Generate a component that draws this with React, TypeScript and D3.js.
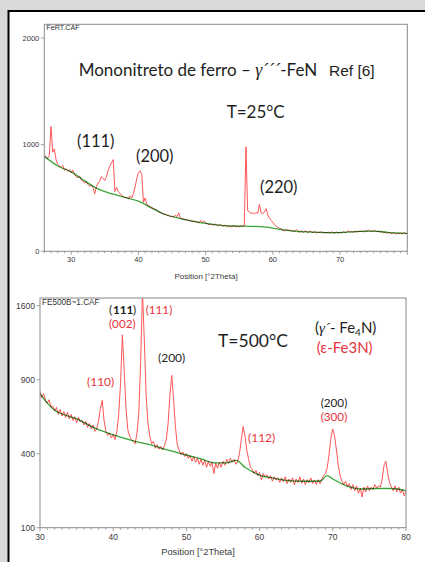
import React from 'react';
import * as d3 from 'd3';

// ---------- Top pattern (FeRT.CAF), 2θ from 26° step 0.25° ----------
const topStart = 26;
const topStep = 0.25;
const topIntensity = [
  905, 880, 870, 900, 1170, 930, 960, 860, // 26
  815, 800, 790, 805, 760, 775, 750, 765, // 28
  735, 760, 720, 700, 690, 705, 670, 660, // 30
  640, 655, 625, 610, 620, 600, 540, 605, // 32
  640, 660, 700, 680, 665, 700, 760, 800, // 34
  830, 860, 560, 600, 560, 545, 525, 515, // 36
  500, 505, 490, 520, 500, 540, 600, 680, // 38
  740, 755, 720, 460, 500, 440, 430, 420, // 40
  410, 400, 395, 385, 370, 365, 360, 345, // 42
  350, 335, 340, 325, 330, 320, 340, 325, // 44
  360, 310, 305, 300, 295, 300, 285, 290, // 46
  280, 285, 275, 280, 265, 290, 270, 285, // 48
  265, 260, 250, 255, 250, 245, 255, 240, // 50
  245, 250, 235, 240, 245, 230, 240, 228, // 52
  235, 240, 228, 235, 230, 238, 232, 240, // 54
  980, 380, 370, 355, 360, 350, 365, 355, // 56
  440, 360, 350, 370, 400, 340, 310, 290, // 58
  270, 250, 235, 225, 215, 210, 200, 190, // 60
  205, 195, 200, 190, 195, 185, 205, 190, // 62
  180, 195, 175, 190, 185, 175, 190, 180, // 64
  175, 185, 170, 180, 175, 185, 170, 178, // 66
  172, 180, 168, 182, 175, 170, 180, 172, // 68
  178, 170, 185, 175, 180, 195, 180, 185, // 70
  178, 190, 182, 188, 185, 192, 180, 195, // 72
  188, 200, 185, 192, 188, 195, 182, 190, // 74
  180, 186, 172, 180, 168, 178, 170, 165, // 76
  175, 160, 172, 165, 170, 162, 175, 165, // 78
  170,
];
const topBgTheta = [26, 28, 30, 32, 34, 36, 38, 40, 42, 44, 46, 48, 50, 52, 54, 55.8, 59, 61.5, 63, 65, 67, 69, 71, 73, 75, 77, 80];
const topBgCounts = [890, 800, 745, 660, 585, 540, 505, 470, 405, 345, 310, 283, 262, 246, 237, 236, 226, 200, 190, 182, 177, 175, 180, 186, 190, 178, 169];
const topXDomain = [26, 80];
const topYDomain = [0, 2000];
const topXTicks = [30, 40, 50, 60, 70];
const topYTicks = [0, 1000, 2000];

// ---------- Bottom pattern (FE500B~1.CAF), 2θ from 30° step 0.25° ----------
const botStart = 30;
const botStep = 0.25;
const botIntensity = [
  810, 760, 790, 740, 720, 745, 690, 700, // 30
  665, 690, 640, 675, 630, 660, 620, 655, // 32
  610, 640, 600, 625, 585, 620, 590, 600, // 34
  570, 595, 555, 580, 545, 570, 530, 545, // 36
  600, 680, 740, 600, 530, 505, 520, 490, // 38
  510, 480, 530, 640, 870, 1300, 980, 680, // 40
  540, 500, 480, 470, 455, 520, 650, 1050, // 42
  1750, 1250, 780, 580, 500, 455, 470, 430, // 44
  450, 425, 440, 420, 445, 480, 580, 780, // 46
  935, 750, 560, 450, 420, 395, 410, 385, // 48
  400, 375, 390, 360, 385, 355, 375, 345, // 50
  370, 340, 365, 330, 360, 335, 355, 300, // 52
  350, 325, 355, 330, 360, 340, 370, 350, // 54
  375, 355, 370, 345, 360, 400, 480, 560, // 56
  500, 420, 370, 330, 320, 300, 315, 290, // 58
  305, 270, 300, 285, 295, 275, 290, 265, // 60
  285, 270, 280, 260, 280, 262, 285, 255, // 62
  275, 260, 280, 250, 275, 260, 285, 255, // 64
  275, 250, 272, 258, 280, 255, 270, 250, // 66
  272, 255, 275, 290, 300, 330, 400, 490, // 68
  545, 500, 420, 340, 290, 265, 250, 265, // 70
  240, 255, 230, 250, 225, 245, 215, 235, // 72
  200, 240, 220, 245, 225, 240, 230, 250, // 74
  235, 245, 240, 275, 340, 360, 300, 260, // 76
  240, 225, 245, 220, 240, 215, 230, 205, // 78
  225,
];
const botBgTheta = [30, 31, 32, 33, 35, 37.5, 40, 43, 45, 47, 50, 52, 54, 55.5, 56.8, 58, 60, 62, 64, 66, 68.3, 69.2, 70, 72, 74, 76, 78, 80];
const botBgCounts = [790, 720, 670, 645, 610, 550, 508, 470, 450, 425, 393, 372, 352, 352, 365, 330, 293, 278, 268, 265, 266, 290, 275, 244, 232, 234, 234, 225];
const botXDomain = [30, 80];
const botYDomain = [100, 1600];
const botXTicks = [30, 40, 50, 60, 70, 80];
const botYTicks = [100, 400, 900, 1600];

const RED = '#ff4d4d';
const LABEL_RED = '#e8343c';
const INK = '#1e1e1e';
const AXIS = '#8a8a8a';
const TICKTXT = '#3a3a3a';
const CAL = 'Lato, "Open Sans", sans-serif';
const ARIAL = '"Liberation Sans", Arial, sans-serif';

type PlotProps = {
  id: string;
  x: d3.ScaleLinear<number, number>;
  y: d3.ScalePower<number, number> | d3.ScaleLinear<number, number>;
  frame: { l: number; t: number; r: number; b: number };
  start: number;
  step: number;
  values: number[];
  bgX: number[];
  bgY: number[];
  xTicks: number[];
  yTicks: number[];
  tickFont: number;
  fileName: string;
  fileFont: number;
  titleX: number;
  titleFont: number;
  xLabelY: number;
};

function Plot(p: PlotProps) {
  const { x, y, frame } = p;
  const pts: [number, number][] = p.values.map((v, i) => [p.start + i * p.step, v]);
  const line = d3
    .line<[number, number]>()
    .x((d) => x(d[0]))
    .y((d) => y(d[1]));
  const bg: [number, number][] = p.bgX.map((t, i) => [t, p.bgY[i]]);
  const bgLine = d3
    .line<[number, number]>()
    .x((d) => x(d[0]))
    .y((d) => y(d[1]))
    .curve(d3.curveMonotoneX);
  const [d0, d1] = x.domain();
  const minor = d3.range(Math.ceil(d0), Math.floor(d1) + 1, 1);
  return (
    <g>
      <defs>
        <clipPath id={p.id}>
          <rect x={frame.l} y={frame.t} width={frame.r - frame.l} height={frame.b - frame.t} />
        </clipPath>
      </defs>
      <g clipPath={`url(#${p.id})`}>
        <path d={line(pts) || ''} fill="none" stroke={RED} strokeWidth={0.95} />
        <path
          d={bgLine(bg) || ''}
          fill="none"
          stroke="#3aa63a"
          strokeWidth={1.3}
          style={{ mixBlendMode: 'multiply' }}
        />
      </g>
      <rect
        x={frame.l}
        y={frame.t}
        width={frame.r - frame.l}
        height={frame.b - frame.t}
        fill="none"
        stroke={AXIS}
        strokeWidth={1}
      />
      {minor.map((t) => (
        <line
          key={'m' + t}
          x1={x(t)}
          x2={x(t)}
          y1={frame.b}
          y2={frame.b + (t % 10 === 0 ? 3.5 : 2)}
          stroke={AXIS}
          strokeWidth={0.8}
        />
      ))}
      {p.xTicks.map((t) => (
        <text
          key={'x' + t}
          x={x(t)}
          y={frame.b + 5 + p.tickFont * 0.8}
          textAnchor="middle"
          fontFamily={ARIAL}
          fontSize={p.tickFont}
          fill={TICKTXT}
        >
          {t}
        </text>
      ))}
      {p.yTicks.map((t) => (
        <g key={'y' + t}>
          <line x1={frame.l - 3.5} x2={frame.l} y1={y(t)} y2={y(t)} stroke={AXIS} strokeWidth={0.8} />
          <text
            x={frame.l - 5}
            y={y(t) + p.tickFont * 0.35}
            textAnchor="end"
            fontFamily={ARIAL}
            fontSize={p.tickFont}
            fill={TICKTXT}
          >
            {t}
          </text>
        </g>
      ))}
      <text
        x={frame.l + 2}
        y={frame.t + p.fileFont * 0.85}
        fontFamily={ARIAL}
        fontSize={p.fileFont}
        fill="#333"
      >
        {p.fileName}
      </text>
      <text
        x={p.titleX}
        y={p.xLabelY}
        textAnchor="middle"
        fontFamily={ARIAL}
        fontSize={p.titleFont}
        fill={TICKTXT}
      >
        Position [°2Theta]
      </text>
    </g>
  );
}

export default function App() {
  const topFrame = { l: 44.3, t: 24.3, r: 407.3, b: 251.3 };
  const topX = d3.scaleLinear().domain(topXDomain).range([topFrame.l, topFrame.r]);
  const topY = d3.scaleLinear().domain(topYDomain).range([251.3, 38]);

  const botFrame = { l: 40, t: 298, r: 406, b: 527.7 };
  const botX = d3.scaleLinear().domain(botXDomain).range([botFrame.l, botFrame.r]);
  const botY = d3.scaleSqrt().domain(botYDomain).range([527.7, 305.7]);

  return (
    <svg
      width={425}
      height={562}
      style={{ position: 'absolute', left: 0, top: 0, display: 'block' }}
    >
      <rect x={0} y={0} width={425} height={562} fill="#d9d9d9" />
      <rect x={8.5} y={11} width={430} height={560} fill="#ffffff" stroke="#000" strokeWidth={2} />

      <Plot
        id="clipTop"
        x={topX}
        y={topY}
        frame={topFrame}
        start={topStart}
        step={topStep}
        values={topIntensity}
        bgX={topBgTheta}
        bgY={topBgCounts}
        xTicks={topXTicks}
        yTicks={topYTicks}
        tickFont={7.5}
        fileName="FeRT.CAF"
        fileFont={7.2}
        titleX={206}
        titleFont={8}
        xLabelY={278.5}
      />
      <Plot
        id="clipBot"
        x={botX}
        y={botY}
        frame={botFrame}
        start={botStart}
        step={botStep}
        values={botIntensity}
        bgX={botBgTheta}
        bgY={botBgCounts}
        xTicks={botXTicks}
        yTicks={botYTicks}
        tickFont={8.5}
        fileName="FE500B~1.CAF"
        fileFont={8.2}
        titleX={198}
        titleFont={9.3}
        xLabelY={555}
      />

      {/* Top annotations */}
      <text x={78.7} y={76} fontFamily={CAL} fontSize={17} fill={INK}>
        Mononitreto de ferro –{' '}
        <tspan fontFamily='"Liberation Serif", serif' fontStyle="italic" fontSize={18}>γ´´´</tspan>-FeN
      </text>
      <text x={329} y={76} fontFamily={ARIAL} fontSize={15.5} fill={INK}>
        Ref [6]
      </text>
      <text x={226.7} y={117.7} fontFamily={CAL} fontSize={17} fill={INK}>
        T=25°C
      </text>
      <text x={77} y={147.3} fontFamily={CAL} fontSize={16.5} fill={INK}>(111)</text>
      <text x={136} y={161.7} fontFamily={CAL} fontSize={16.5} fill={INK}>(200)</text>
      <text x={260} y={193.3} fontFamily={CAL} fontSize={16.5} fill={INK}>(220)</text>

      {/* Bottom annotations */}
      <text x={109} y={314.3} fontFamily={CAL} fontSize={11.7} fill={INK}>(</text>
      <text x={113} y={314.3} fontFamily={CAL} fontSize={11.7} fontWeight="bold" fill={INK}>111</text>
      <text x={133} y={314.3} fontFamily={CAL} fontSize={11.7} fill={INK}>)</text>
      <text x={109} y={327.5} fontFamily={CAL} fontSize={11.7} fill={LABEL_RED}>(002)</text>
      <text x={145.7} y={314.3} fontFamily={CAL} fontSize={11.7} fill={LABEL_RED}>(111)</text>
      <text x={218} y={346.7} fontFamily={CAL} fontSize={17.5} fill={INK}>T=500°C</text>
      <text x={315} y={333.3} fontFamily={CAL} fontSize={15} fill={INK}>
        (<tspan fontFamily='"Liberation Serif", serif' fontStyle="italic">γ´</tspan>- Fe
        <tspan fontSize={10} dy={3}>4</tspan>
        <tspan dy={-3}>N)</tspan>
      </text>
      <text x={316.7} y={353.3} fontFamily={CAL} fontSize={15} fill={LABEL_RED}>(ε-Fe3N)</text>
      <text x={158} y={361.7} fontFamily={CAL} fontSize={12} fill={INK}>(200)</text>
      <text x={87} y={386} fontFamily={CAL} fontSize={12} fill={LABEL_RED}>(110)</text>
      <text x={320.7} y={407.2} fontFamily={CAL} fontSize={11.7} fill={INK}>(200)</text>
      <text x={320.7} y={420.7} fontFamily={CAL} fontSize={11.7} fill={LABEL_RED}>(300)</text>
      <text x={248} y={441.7} fontFamily={CAL} fontSize={12} fill={LABEL_RED}>(112)</text>
    </svg>
  );
}
